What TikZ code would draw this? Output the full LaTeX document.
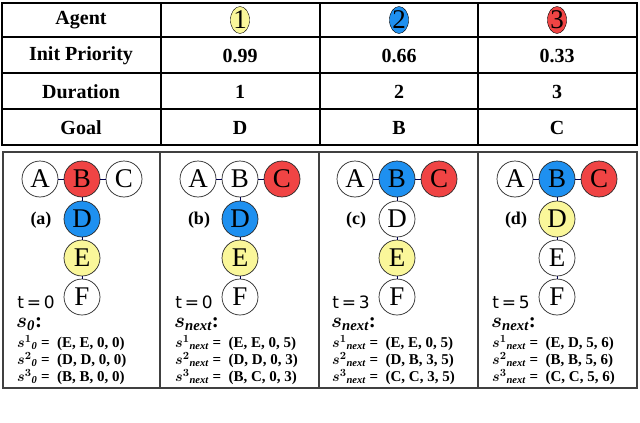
\documentclass[tikz,border=0pt]{standalone}
\usepackage{amsmath,bm}
\usepackage{fontspec}
\usetikzlibrary{shapes.geometric}
\setmainfont{Liberation Serif}
\newfontfamily\tfont{DejaVu Sans}
\definecolor{cy}{HTML}{FAF79A}
\definecolor{cb}{HTML}{1E90F0}
\definecolor{cr}{HTML}{F04444}
\begin{document}
\begin{tikzpicture}[x=1pt,y=-1pt,
 vert/.style={circle,draw=black!85,line width=0.7pt,minimum size=36pt,inner sep=0pt,font=\fontsize{27}{27}\selectfont},
 tcell/.style={font=\bfseries\fontsize{20}{20}\selectfont},
 ag/.style={ellipse,draw=black,inner sep=0pt,minimum width=17pt,minimum height=27pt,font=\fontsize{27}{27}\selectfont},
 lab/.style={font=\bfseries\fontsize{18}{18}\selectfont},
 tt/.style={font=\tfont\fontsize{17}{17}\selectfont},
 ln/.style={font=\bfseries\fontsize{15}{15}\selectfont,anchor=west,inner sep=0pt},
 edge/.style={draw=black!70!blue,line width=0.8pt}]
\useasboundingbox (0,0) rectangle (640,423);
% table
\draw[line width=1.3pt] (2,3) rectangle (637,145);
\foreach \y in {37,73,109} \draw[line width=1.3pt] (2,\y) -- (637,\y);
\foreach \x in {161,320,478} \draw[line width=1.3pt] (\x,3) -- (\x,145);
\node[tcell] (h0) at (81,20) {Agent};
\node[ag,fill=cy] (h1) at (240,20) {1};
\node[ag,fill=cb] (h2) at (399,20) {2};
\node[ag,fill=cr] (h3) at (557,20) {3};
\node[tcell] (p0) at (81,56) {Init Priority};
\node[tcell] (p1) at (240,56) {0.99};
\node[tcell] (p2) at (399,56) {0.66};
\node[tcell] (p3) at (557,56) {0.33};
\node[tcell] (d0) at (81,92) {Duration};
\node[tcell] (d1) at (240,92) {1};
\node[tcell] (d2) at (399,92) {2};
\node[tcell] (d3) at (557,92) {3};
\node[tcell] (g0) at (81,128) {Goal};
\node[tcell] (g1) at (240,128) {D};
\node[tcell] (g2) at (399,128) {B};
\node[tcell] (g3) at (557,128) {C};
% panels
\draw[line width=1.5pt,draw=black!75] (3,152) rectangle (637,388);
\foreach \x in {160,319,478} \draw[line width=1.5pt,draw=black!75] (\x,152) -- (\x,388);
\foreach \ox/\L/\t/\ca/\cb/\cc/\cd/\ce/\S/\ra/\rb/\rc [count=\i] in {
 0/a/0/white/cr/white/cb/cy/0/{(E, E, 0, 0)}/{(D, D, 0, 0)}/{(B, B, 0, 0)},
 158/b/0/white/white/cr/cb/cy/next/{(E, E, 0, 5)}/{(D, D, 0, 3)}/{(B, C, 0, 3)},
 315/c/3/white/cb/cr/white/cy/next/{(E, E, 0, 5)}/{(D, B, 3, 5)}/{(C, C, 3, 5)},
 475/d/5/white/cb/cr/cy/white/next/{(E, D, 5, 6)}/{(B, B, 5, 6)}/{(C, C, 5, 6)}}{
 \begin{scope}[xshift=\ox]
 \node[vert,fill=\ca] (A\i) at (40,179) {A};
 \node[vert,fill=\cb] (B\i) at (82,179) {B};
 \node[vert,fill=\cc] (C\i) at (124,179) {C};
 \node[vert,fill=\cd] (D\i) at (82,219) {D};
 \node[vert,fill=\ce] (E\i) at (82,258) {E};
 \node[vert,fill=white] (F\i) at (82,297) {F};
 \draw[edge] (A\i)--(B\i) (B\i)--(C\i) (B\i)--(D\i) (D\i)--(E\i) (E\i)--(F\i);
 \node[lab] (L\i) at (41,220) {(\L)};
 \node[tt] (T\i) at (36,302) {t\,=\,\t};
 \node[anchor=west,inner sep=0pt,font=\fontsize{21}{21}\selectfont] (S\i) at (16,324) {$\bm{s_{\mathit{\S}}}$\textbf{:}};
 \node[ln] (s1\i) at (17,343) {$\bm{s^1{}_{\mathit{\S}}}$ = \ \ra};
 \node[ln] (s2\i) at (17,360) {$\bm{s^2{}_{\mathit{\S}}}$ = \ \rb};
 \node[ln] (s3\i) at (17,377) {$\bm{s^3{}_{\mathit{\S}}}$ = \ \rc};
 \end{scope}}
\end{tikzpicture}
\end{document}
